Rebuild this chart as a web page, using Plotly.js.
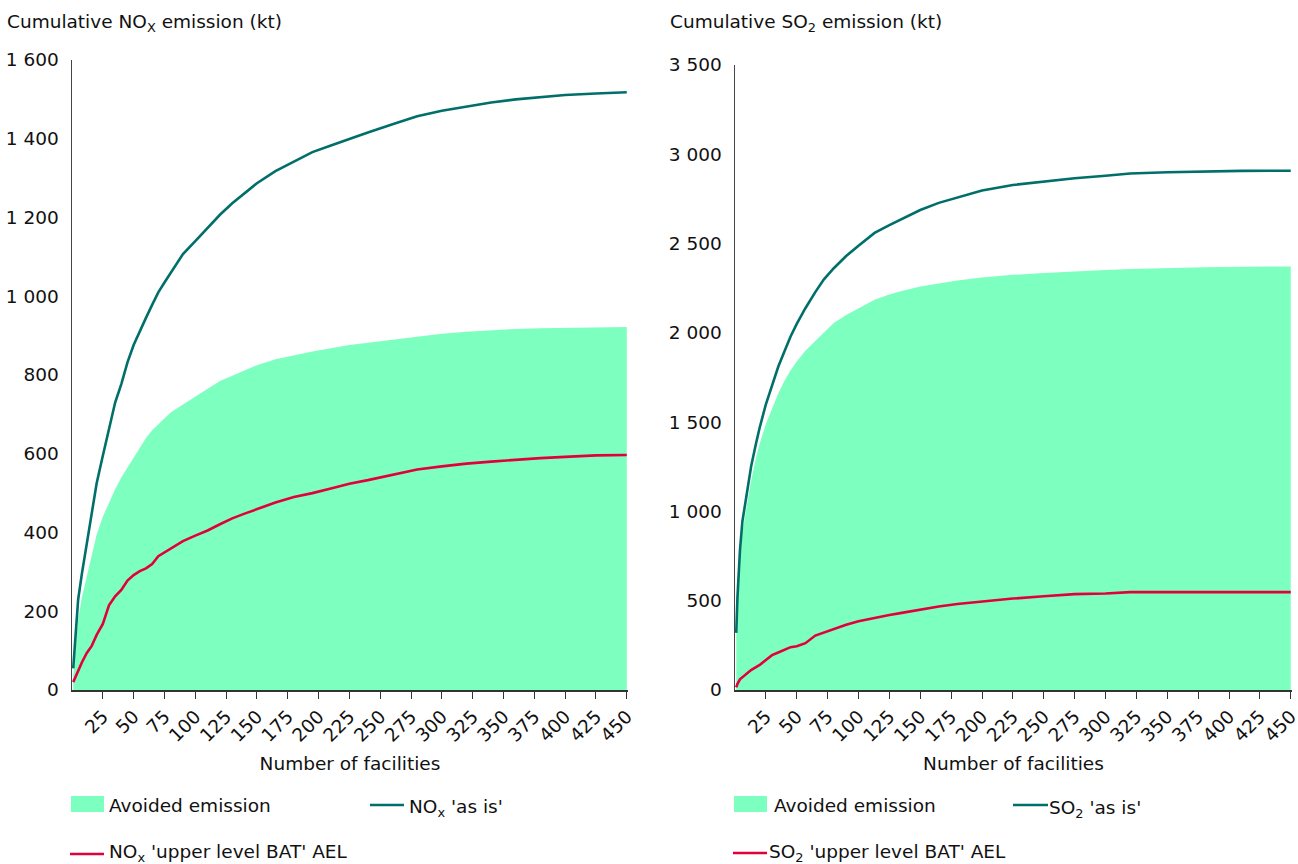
<!DOCTYPE html>
<html><head><meta charset="utf-8">
<script src="https://cdn.plot.ly/plotly-3.0.1.min.js"></script>
<style>html,body{margin:0;padding:0;background:#fff}#chart{width:1298px;height:864px}</style>
</head><body><div id="chart"></div>
<script>
// ---- data ----
const NOX_FACILITIES = [1,3,5,8,12,16,20,25,30,35,40,45,50,55,60,65,70,75,80,90,100,110,120,130,140,150,165,180,195,210,225,240,260,280,300,320,340,360,380,400,425,450];
const NOX_AS_IS = [55,150,230,295,368,450,525,595,665,730,777,832,876,912,945,978,1010,1035,1060,1107,1140,1174,1207,1236,1262,1287,1318,1342,1366,1383,1400,1416,1437,1457,1471,1482,1492,1500,1506,1511,1515,1518];
const NOX_BAT = [20,35,50,70,94,112,140,168,215,238,254,278,292,302,309,320,340,350,360,378,392,405,421,436,448,459,476,490,500,512,524,533,547,560,568,575,580,585,589,592,596,597];
const NOX_AVOIDED = [35,110,180,235,290,345,395,440,475,510,540,565,590,615,640,660,675,690,705,725,745,765,785,798,812,825,840,850,860,868,876,882,890,898,905,910,914,917,919,920,921,922];

const SO2_FACILITIES = [1,2,4,6,9,13,17,20,25,30,35,40,45,50,57,65,72,80,90,100,113,125,135,150,165,180,200,225,250,275,300,320,350,380,410,450];
const SO2_AS_IS = [320,520,780,945,1075,1250,1380,1470,1600,1710,1810,1895,1980,2050,2138,2228,2300,2362,2430,2488,2560,2603,2638,2688,2728,2758,2797,2828,2848,2866,2880,2892,2899,2903,2907,2908];
const SO2_BAT = [15,35,60,72,90,112,128,140,168,195,210,225,240,245,262,305,322,338,365,385,405,420,432,452,468,482,496,512,525,537,540,548,548,548,548,548];
const SO2_AVOIDED = [290,470,720,880,1010,1170,1300,1380,1490,1580,1660,1730,1790,1840,1900,1955,2000,2055,2100,2135,2185,2215,2235,2260,2278,2293,2310,2325,2335,2345,2352,2358,2365,2368,2370,2372];

const X_TICKS = [25,50,75,100,125,150,175,200,225,250,275,300,325,350,375,400,425,450];
const NOX_Y_TICKS = [0,200,400,600,800,1000,1200,1400,1600];
const SO2_Y_TICKS = [0,500,1000,1500,2000,2500,3000,3500];

const NOX_TITLE = 'Cumulative NO<sub>X</sub> emission (kt)';
const SO2_TITLE = 'Cumulative SO<sub>2</sub> emission (kt)';
const X_TITLE = 'Number of facilities';
const LEG_AVOIDED = 'Avoided emission';
const LEG_NOX_ASIS = "NO<sub>x</sub> 'as is'";
const LEG_NOX_BAT = "NO<sub>x</sub> 'upper level BAT' AEL";
const LEG_SO2_ASIS = "SO<sub>2</sub> 'as is'";
const LEG_SO2_BAT = "SO<sub>2</sub> 'upper level BAT' AEL";

// ---- styling ----
const W = 1298, H = 864;
const px = x => x / W;
const py = y => 1 - y / H;
const GREEN = '#7DFFC0', TEAL = '#006F69', RED = '#E2003C';
const FONT = {family: 'DejaVu Sans, Verdana, sans-serif', size: 18.5, color: '#111'};

function area(x, y, xa, ya, name) {
  return {x, y, type: 'scatter', mode: 'lines', fill: 'tozeroy', fillcolor: GREEN,
    line: {width: 0, color: GREEN}, xaxis: xa, yaxis: ya, name, showlegend: false, hoverinfo: 'skip'};
}
function line(x, y, xa, ya, color, name) {
  return {x, y, type: 'scatter', mode: 'lines', line: {width: 2.6, color},
    xaxis: xa, yaxis: ya, name, showlegend: false};
}

const data = [
  area(NOX_FACILITIES, NOX_AVOIDED, 'x', 'y', 'Avoided emission'),
  line(NOX_FACILITIES, NOX_AS_IS, 'x', 'y', TEAL, "NOx 'as is'"),
  line(NOX_FACILITIES, NOX_BAT, 'x', 'y', RED, "NOx 'upper level BAT' AEL"),
  area(SO2_FACILITIES, SO2_AVOIDED, 'x2', 'y2', 'Avoided emission'),
  line(SO2_FACILITIES, SO2_AS_IS, 'x2', 'y2', TEAL, "SO2 'as is'"),
  line(SO2_FACILITIES, SO2_BAT, 'x2', 'y2', RED, "SO2 'upper level BAT' AEL")
];

function xAxis(domain, anchor) {
  return {domain, anchor, range: [0, 451], tickvals: X_TICKS, ticks: 'outside', ticklen: 7,
    tickcolor: '#333', tickwidth: 1, showline: true, linecolor: '#333', linewidth: 1.5,
    tickangle: -45, showgrid: false, zeroline: false, tickfont: FONT, ticklabeloverflow: 'allow',
    title: {text: X_TITLE, font: FONT, standoff: 12}, fixedrange: true};
}
function yAxis(domain, anchor, range, tickvals) {
  return {domain, anchor, range, tickvals, tickformat: ',d', ticks: '', showline: true,
    linecolor: '#444', linewidth: 1.5, showgrid: false, zeroline: false, tickfont: FONT,
    ticklabelstandoff: 8, fixedrange: true};
}

const shapes = [
  {type: 'rect', xref: 'paper', yref: 'paper', x0: px(71), x1: px(104), y0: py(812), y1: py(796), fillcolor: GREEN, line: {width: 0}},
  {type: 'line', xref: 'paper', yref: 'paper', x0: px(370), x1: px(404), y0: py(805), y1: py(805), line: {color: TEAL, width: 2.6}},
  {type: 'line', xref: 'paper', yref: 'paper', x0: px(70), x1: px(104), y0: py(854), y1: py(854), line: {color: RED, width: 2.6}},
  {type: 'rect', xref: 'paper', yref: 'paper', x0: px(734), x1: px(767), y0: py(812), y1: py(796), fillcolor: GREEN, line: {width: 0}},
  {type: 'line', xref: 'paper', yref: 'paper', x0: px(1013), x1: px(1048), y0: py(805), y1: py(805), line: {color: TEAL, width: 2.6}},
  {type: 'line', xref: 'paper', yref: 'paper', x0: px(733), x1: px(767), y0: py(853), y1: py(853), line: {color: RED, width: 2.6}}
];

function ann(text, x, y) {
  return {text, x: px(x), y: py(y), xref: 'paper', yref: 'paper', xanchor: 'left', yanchor: 'middle',
    showarrow: false, font: FONT, borderpad: 0};
}
const annotations = [
  ann(NOX_TITLE, 6, 23),
  ann(SO2_TITLE, 669, 23),
  ann(LEG_AVOIDED, 108, 805),
  ann(LEG_NOX_ASIS, 408, 808),
  ann(LEG_NOX_BAT, 108, 853),
  ann(LEG_AVOIDED, 773, 805),
  ann(LEG_SO2_ASIS, 1048, 809),
  ann(LEG_SO2_BAT, 768, 853)
];

const layout = {
  width: W, height: H, margin: {l: 0, r: 0, t: 0, b: 0},
  paper_bgcolor: '#fff', plot_bgcolor: 'rgba(0,0,0,0)',
  separators: ', ', showlegend: false, font: FONT,
  xaxis: xAxis([px(72), px(628)], 'y'),
  yaxis: yAxis([py(690), py(60)], 'x', [0, 1600], NOX_Y_TICKS),
  xaxis2: xAxis([px(735), px(1292)], 'y2'),
  yaxis2: yAxis([py(690), py(65)], 'x2', [0, 3500], SO2_Y_TICKS),
  shapes, annotations
};

Plotly.newPlot('chart', data, layout, {displayModeBar: false, staticPlot: true});
</script></body></html>
